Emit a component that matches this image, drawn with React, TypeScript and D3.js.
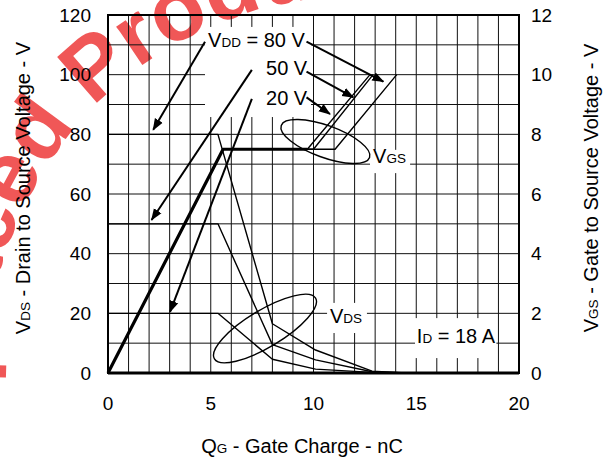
import React from 'react'
import * as d3 from 'd3'

// gate charge (nC) vs drain-source voltage (V), one list per VDD
const vds80: [number, number][] = [[0, 80], [5.35, 80], [8, 16.5], [10.1, 7.7], [12.85, 0.6], [14.5, 0]]
const vds50: [number, number][] = [[0, 50], [5.35, 50], [8, 9.5], [10.1, 4.4], [12.85, 0.4], [14.5, 0]]
const vds20: [number, number][] = [[0, 20], [5.35, 20], [8, 4.6], [10.1, 1.3], [12.85, 0.2], [14.5, 0]]

// gate charge (nC) vs gate-source voltage (V)
const vgs20: [number, number][] = [[0, 0], [5.6, 7.5], [9.7, 7.5], [12.75, 10]]
const vgs50: [number, number][] = [[0, 0], [5.6, 7.5], [10.0, 7.5], [12.9, 10]]
const vgs80: [number, number][] = [[0, 0], [5.6, 7.5], [11.05, 7.5], [14.05, 10]]

const qTicks = [0, 5, 10, 15, 20]
const vdsTicks = [0, 20, 40, 60, 80, 100, 120]
const vgsTicks = [0, 2, 4, 6, 8, 10, 12]

// arrows, in (nC, VDS) units
const arrows: [number, number, number, number][] = [
  [4.72, 111, 2.2, 81.5],
  [7.0, 101.6, 2.12, 51.3],
  [7.0, 91.9, 3.02, 20.5],
  [9.66, 111.1, 13.4, 97.7],
  [9.66, 101, 11.94, 92.4],
  [9.66, 92.4, 10.8, 86.8],
]

// white boxes behind labels: q0, v0, q1, v1
const labelBoxes: [number, number, number, number][] = [
  [4.72, 116, 9.88, 85.8],
  [12.75, 74.8, 14.7, 67],
  [10.66, 23.5, 12.6, 13.4],
  [14.94, 18.4, 18.9, 5],
]

export default function App() {
  const W = 613
  const H = 463
  const [left, right, top, bottom] = [108, 519, 15, 373]
  const font = 'Liberation Sans, Arial, sans-serif'

  const x = d3.scaleLinear().domain([0, 20]).range([left, right])
  const yL = d3.scaleLinear().domain([0, 120]).range([bottom, top])
  const yR = d3.scaleLinear().domain([0, 12]).range([bottom, top])

  const lineL = d3.line<[number, number]>().x(d => x(d[0])).y(d => yL(d[1]))
  const lineR = d3.line<[number, number]>().x(d => x(d[0])).y(d => yR(d[1]))

  const gridQ = d3.range(1, 20)
  const gridV = d3.range(10, 120, 10)

  // stamp text runs on a circle arc
  const stampArc = d3.path()
  stampArc.arc(358, 366, 370, (150 * Math.PI) / 180, (320 * Math.PI) / 180, false)

  return (
    <svg width={W} height={H} style={{ position: 'absolute', left: 0, top: 0 }} fontFamily={font}>
      <defs>
        <marker id='ah' markerUnits='userSpaceOnUse' markerWidth={12} markerHeight={10}
          viewBox='0 0 12 10' refX={11} refY={5} orient='auto'>
          <path d='M0,0.5 L12,5 L0,9.5 Z' fill='#000' />
        </marker>
        <path id='stamp' d={stampArc.toString()} />
      </defs>

      {/* watermark */}
      <text fontSize={88} fontWeight='bold' fill='#ee3a3a' opacity={0.85}>
        <textPath href='#stamp' startOffset={64}>Replaced Product</textPath>
      </text>

      {/* grid */}
      <g stroke='#111' strokeWidth={1}>
        {gridQ.map(q => (
          <line key={'q' + q} x1={x(q)} x2={x(q)} y1={top} y2={bottom} />
        ))}
        {gridV.map(v => (
          <line key={'v' + v} x1={left} x2={right} y1={yL(v)} y2={yL(v)} />
        ))}
      </g>
      {labelBoxes.map((b, i) => (
        <rect key={i} x={x(b[0])} y={yL(b[1])} width={x(b[2]) - x(b[0])}
          height={yL(b[3]) - yL(b[1])} fill='#fff' />
      ))}

      {/* frame */}
      <rect x={left} y={top} width={right - left} height={bottom - top}
        fill='none' stroke='#000' strokeWidth={2} />
      <line x1={left} x2={right} y1={bottom} y2={bottom} stroke='#000' strokeWidth={3} />

      {/* curves */}
      <g fill='none' stroke='#000' strokeLinejoin='round'>
        {[vds80, vds50, vds20].map((s, i) => (
          <path key={'d' + i} d={lineL(s) || ''} strokeWidth={1.4} />
        ))}
        {[vgs20, vgs50, vgs80].map((s, i) => (
          <path key={'g' + i} d={lineR(s) || ''} strokeWidth={1.4} />
        ))}
        <path d={lineR(vgs20.slice(0, 3)) || ''} strokeWidth={3.2} />
      </g>

      {/* ellipses */}
      <g fill='none' stroke='#000' strokeWidth={1.4}>
        <ellipse cx={0} cy={0} rx={47} ry={16}
          transform={`translate(${x(10.58)},${yL(77.6)}) rotate(20)`} />
        <ellipse cx={0} cy={0} rx={59} ry={18.5}
          transform={`translate(${x(7.64)},${yL(14.9)}) rotate(-31)`} />
      </g>

      {/* arrows */}
      <g stroke='#000' strokeWidth={2}>
        {arrows.map((a, i) => (
          <line key={i} x1={x(a[0])} y1={yL(a[1])} x2={x(a[2])} y2={yL(a[3])} markerEnd='url(#ah)' />
        ))}
      </g>

      {/* labels */}
      <g fontSize={20} fill='#000'>
        <text x={x(4.87)} y={yL(109.3)}>
          V<tspan fontSize={13.5}>DD</tspan> = 80 V
        </text>
        <text x={x(7.69)} y={yL(99.9)}>50 V</text>
        <text x={x(7.69)} y={yL(89.8)}>20 V</text>
        <text x={x(12.9)} y={yL(70.4)}>
          V<tspan fontSize={13.5}>GS</tspan>
        </text>
        <text x={x(10.8)} y={yL(16.8)}>
          V<tspan fontSize={13.5}>DS</tspan>
        </text>
        <text x={x(15.03)} y={yL(10)}>
          I<tspan fontSize={13.5}>D</tspan> = 18 A
        </text>
      </g>

      {/* ticks */}
      <g fontSize={19} fill='#000'>
        {qTicks.map(q => (
          <text key={q} x={x(q)} y={410} textAnchor='middle'>{q}</text>
        ))}
        {vdsTicks.map(v => (
          <text key={v} x={91} y={yL(v)} dy='0.35em' textAnchor='end'>{v}</text>
        ))}
        {vgsTicks.map(v => (
          <text key={v} x={531} y={yR(v)} dy='0.35em' textAnchor='start'>{v}</text>
        ))}
      </g>

      {/* axis titles */}
      <g fontSize={20} fill='#000'>
        <text x={302} y={453} textAnchor='middle'>
          Q<tspan fontSize={13.5}>G</tspan> - Gate Charge - nC
        </text>
        <text transform='translate(29.5,188) rotate(-90)' textAnchor='middle'>
          V<tspan fontSize={13.5}>DS</tspan> - Drain to Source Voltage - V
        </text>
        <text transform='translate(598,188) rotate(-90)' textAnchor='middle'>
          V<tspan fontSize={13.5}>GS</tspan> - Gate to Source Voltage - V
        </text>
      </g>
    </svg>
  )
}
